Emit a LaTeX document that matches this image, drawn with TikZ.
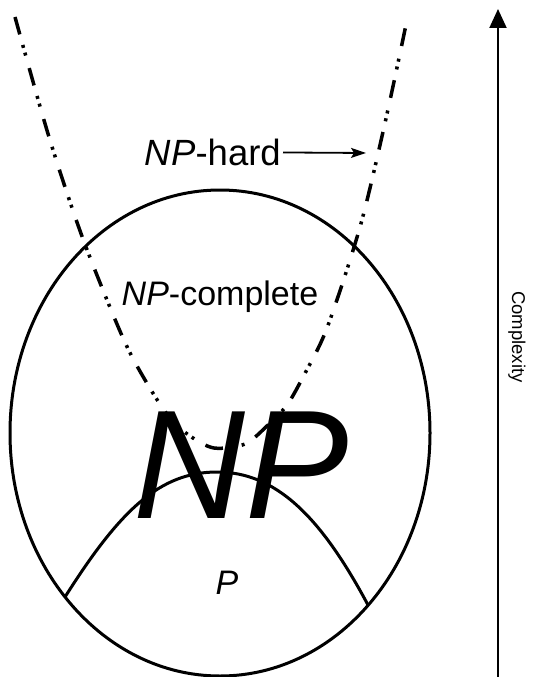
\documentclass[tikz,border=0pt]{standalone}
\usepackage{fontspec}
\setmainfont{Liberation Sans}
\usetikzlibrary{arrows.meta}

\begin{document}
\begin{tikzpicture}[
    x=1pt, y=-1pt,
    setline/.style={line width=3pt},
    hardline/.style={line width=3.5pt, dash pattern=on 18pt off 11pt on 3pt off 5pt on 3pt off 13pt},
    classtext/.style={font=\fontsize{34}{38}\selectfont, inner sep=2pt},
    bigtext/.style={font=\fontsize{155}{160}\selectfont, inner sep=0pt},
    axistext/.style={font=\fontsize{18.5}{21}\selectfont, inner sep=0pt, rotate=-90},
    pointer/.style={-{Stealth[length=15pt, width=10pt, inset=3pt]}, line width=1.8pt},
    axis/.style={-{Triangle[length=19pt, width=17pt]}, line width=2pt}
  ]
    \useasboundingbox (0,0) rectangle (536,677);

    % NP set
    \draw[setline] (220,433) ellipse [x radius=210, y radius=243];

    % P boundary
    \coordinate (pl) at (65,597);
    \coordinate (pr) at (368,605);
    \draw[setline] (pl) .. controls (120,510) and (160,472) .. (217,472)
        .. controls (275,472) and (320,515) .. (pr);

    % NP-hard boundary
    \draw[hardline] plot[smooth] coordinates {(15,17) (49,137) (83,239) (123,338) (148,385)
        (170,418) (190,436) (214,448) (245,444) (268,425) (287,405) (303,377) (327,328)
        (360,227) (385,123) (407,20)};

    % Labels
    \node[classtext, font=\fontsize{36.5}{40}\selectfont, anchor=east] (hard) at (283,152) {\textit{NP}-hard};
    \coordinate (hardtip) at (366,153);
    \draw[pointer] (hard) -- (hardtip);
    \node[classtext, anchor=base] (complete) at (220,305) {\textit{NP}-complete};
    \node[bigtext, anchor=base] (np) at (241,518) {\textit{NP}};
    \node[classtext, anchor=base] (p) at (227,594) {\textit{P}};

    % Complexity axis
    \coordinate (cbot) at (498,677);
    \coordinate (ctop) at (498,9);
    \draw[axis] (cbot) -- (ctop);
    \node[axistext] (cx) at (517,337) {Complexity};

  \end{tikzpicture}
\end{document}
